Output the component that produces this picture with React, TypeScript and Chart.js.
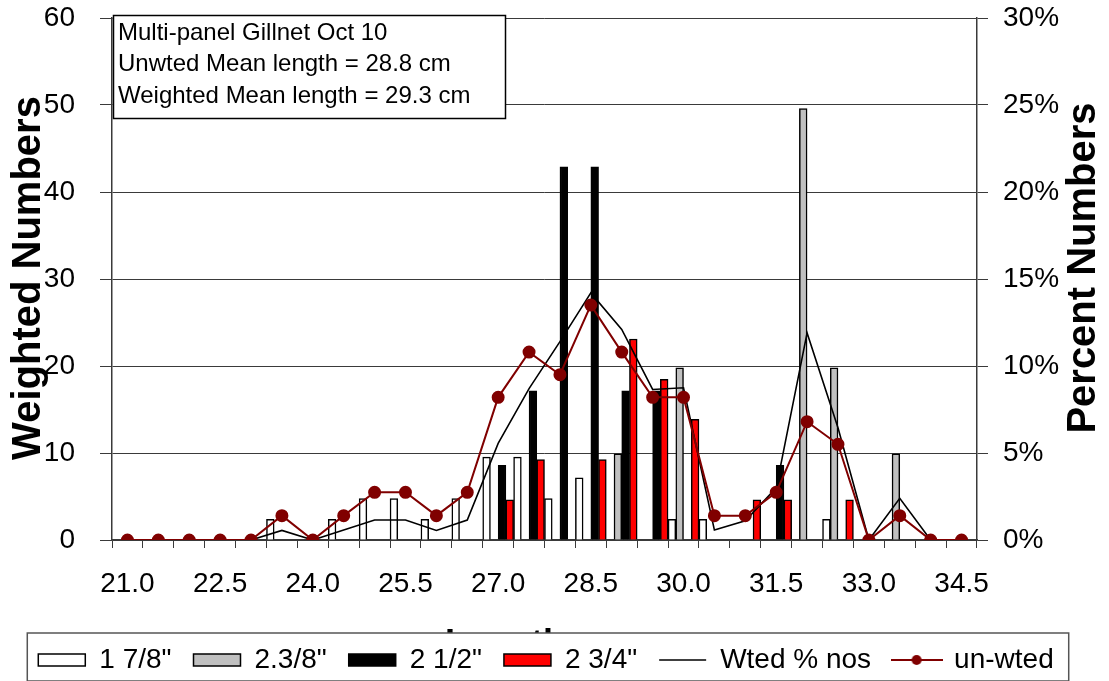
import React, { useEffect, useRef } from 'react';
import { Chart, registerables } from 'chart.js';

Chart.register(...registerables);

// ---------- data ----------
const lengths = ['21.0', '21.5', '22.0', '22.5', '23.0', '23.5', '24.0', '24.5', '25.0', '25.5', '26.0', '26.5', '27.0', '27.5', '28.0', '28.5', '29.0', '29.5', '30.0', '30.5', '31.0', '31.5', '32.0', '32.5', '33.0', '33.5', '34.0', '34.5'];

const mesh1_7_8 = [null, null, null, null, null, 2.38, null, 2.38, 4.76, 4.76, 2.38, 4.76, 9.52, 9.52, 4.76, 7.14, null, null, 2.38, 2.38, null, null, null, 2.38, null, null, null, null];
const mesh2_3_8 = [null, null, null, null, null, null, null, null, null, null, null, null, null, null, null, null, 9.9, null, 19.8, null, null, null, 49.6, 19.8, null, 9.9, null, null];
const mesh2_1_2 = [null, null, null, null, null, null, null, null, null, null, null, null, 8.58, 17.16, 42.9, 42.9, 17.16, 17.16, null, null, null, 8.58, null, null, null, null, null, null];
const mesh2_3_4 = [null, null, null, null, null, null, null, null, null, null, null, null, 4.62, 9.24, null, 9.24, 23.1, 18.48, 13.86, null, 4.62, 4.62, null, 4.62, null, null, null, null];

const wtedPct = [0, 0, 0, 0, 0, 0.55, 0, 0.57, 1.15, 1.15, 0.55, 1.15, 5.55, 8.7, 11.4, 14.2, 12.1, 8.65, 8.75, 0.57, 1.1, 3.0, 11.9, 6.45, 0, 2.4, 0, 0];
const unwtedPct = [0, 0, 0, 0, 0, 1.4, 0, 1.4, 2.74, 2.74, 1.4, 2.74, 8.2, 10.8, 9.5, 13.5, 10.8, 8.2, 8.2, 1.4, 1.4, 2.74, 6.8, 5.5, 0, 1.4, 0, 0];

const seriesLabels = ['1 7/8"', '2.3/8"', '2 1/2"', '2 3/4"', 'Wted % nos', 'un-wted'];
const noteLines = ['Multi-panel Gillnet Oct 10', 'Unwted Mean length = 28.8 cm', 'Weighted Mean length = 29.3 cm'];
const leftTitle = 'Weighted Numbers';
const rightTitle = 'Percent Numbers';
const bottomTitle = 'Length';

// ---------- styles ----------
const FONT = '"Liberation Sans", Arial, sans-serif';
const CW = 1109;
const CH = 684;
const PAD_RIGHT = 17;
const PLOT_TOP = 18;
const PLOT_BOTTOM = 540;
const PLOT_LEFT = 112;
const PLOT_RIGHT = 977;
const DARKRED = '#800000';
const GRID = '#3a3a3a';

export default function App() {
  const ref = useRef<HTMLCanvasElement>(null);

  useEffect(() => {
    const canvas = ref.current!;
    Chart.defaults.font.family = FONT;
    Chart.defaults.color = '#000';

    const dotImg = document.createElement('canvas');
    dotImg.width = 52;
    dotImg.height = 14;
    const dc = dotImg.getContext('2d')!;
    dc.strokeStyle = DARKRED;
    dc.lineWidth = 2;
    dc.beginPath();
    dc.moveTo(0, 7);
    dc.lineTo(52, 7);
    dc.stroke();
    dc.fillStyle = DARKRED;
    dc.beginPath();
    dc.arc(26, 7, 5, 0, Math.PI * 2);
    dc.fill();

    const legendStyle = [
      { fill: '#ffffff', stroke: '#000', ps: 'rect' },
      { fill: '#c0c0c0', stroke: '#000', ps: 'rect' },
      { fill: '#000000', stroke: '#000', ps: 'rect' },
      { fill: '#ff0000', stroke: '#000', ps: 'rect' },
      { fill: '#000', stroke: '#000', ps: 'line' },
      { fill: DARKRED, stroke: DARKRED, ps: dotImg },
    ];

    const decor = {
      id: 'decor',
      beforeDraw(chart: any) {
        const ctx = chart.ctx;
        ctx.save();
        ctx.fillStyle = '#fff';
        ctx.fillRect(0, 0, chart.width, chart.height);
        // x-axis title (mostly hidden behind the legend)
        ctx.fillStyle = '#000';
        ctx.font = `bold 36px ${FONT}`;
        ctx.textAlign = 'center';
        ctx.textBaseline = 'alphabetic';
        ctx.fillText(bottomTitle, 505, 655);
        // legend frame
        const hb = chart.legend && chart.legend.legendHitBoxes;
        if (hb && hb.length) {
          const first = hb[0];
          const last = hb[hb.length - 1];
          const cy = first.top + first.height / 2;
          const l = first.left - 11;
          const r = last.left + last.width + 15;
          const t = cy - 27;
          const b = cy + 21;
          ctx.fillStyle = '#fff';
          ctx.fillRect(l, t, r - l, b - t);
          ctx.strokeStyle = '#555';
          ctx.lineWidth = 1.5;
          ctx.strokeRect(l, t, r - l, b - t);
        }
        ctx.restore();
      },
      afterDraw(chart: any) {
        const ctx = chart.ctx;
        ctx.save();
        // note box
        ctx.fillStyle = '#fff';
        ctx.fillRect(113, 15, 392, 103);
        ctx.strokeStyle = '#000';
        ctx.lineWidth = 1.5;
        ctx.strokeRect(113.5, 15.5, 392, 103);
        ctx.fillStyle = '#000';
        ctx.font = `24px ${FONT}`;
        ctx.textAlign = 'left';
        ctx.textBaseline = 'middle';
        noteLines.forEach((s, i) => ctx.fillText(s, 118, 33 + i * 31.5));
        // axis titles
        ctx.font = `bold 40px ${FONT}`;
        ctx.textAlign = 'center';
        ctx.textBaseline = 'middle';
        ctx.save();
        ctx.translate(29, 278);
        ctx.rotate(-Math.PI / 2);
        ctx.fillText(leftTitle, 0, 0);
        ctx.restore();
        ctx.save();
        ctx.translate(1084, 268);
        ctx.rotate(-Math.PI / 2);
        ctx.fillText(rightTitle, 0, 0);
        ctx.restore();
        ctx.restore();
      },
    };

    const barCommon = {
      type: 'bar' as const,
      borderColor: '#000',
      borderWidth: 1.5,
      yAxisID: 'y',
      order: 3,
      categoryPercentage: 1.0,
      barPercentage: 1.0,
    };

    const chart = new Chart(canvas, {
      type: 'bar',
      data: {
        labels: lengths,
        datasets: [
          { ...barCommon, label: seriesLabels[0], data: mesh1_7_8, backgroundColor: '#ffffff' },
          { ...barCommon, label: seriesLabels[1], data: mesh2_3_8, backgroundColor: '#c0c0c0' },
          { ...barCommon, label: seriesLabels[2], data: mesh2_1_2, backgroundColor: '#000000' },
          { ...barCommon, label: seriesLabels[3], data: mesh2_3_4, backgroundColor: '#ff0000' },
          {
            type: 'line', label: seriesLabels[4], data: wtedPct, yAxisID: 'y1', order: 2,
            borderColor: '#000', backgroundColor: '#000', borderWidth: 1.6, pointRadius: 0, tension: 0,
          },
          {
            type: 'line', label: seriesLabels[5], data: unwtedPct, yAxisID: 'y1', order: 1,
            borderColor: DARKRED, backgroundColor: DARKRED, borderWidth: 2, pointRadius: 5.5,
            pointBackgroundColor: DARKRED, pointBorderColor: DARKRED, tension: 0,
          },
        ] as any,
      },
      options: {
        responsive: false,
        animation: false,
        events: [],
        layout: { padding: { top: PLOT_TOP, left: 0, right: PAD_RIGHT, bottom: 0 } },
        plugins: {
          tooltip: { enabled: false },
          title: { display: false },
          legend: {
            display: true,
            position: 'bottom',
            labels: {
              usePointStyle: true,
              pointStyleWidth: 47,
              boxHeight: 12,
              padding: 22,
              font: { size: 28, family: FONT },
              color: '#000',
              generateLabels: (ch: any) =>
                ch.data.datasets.map((ds: any, i: number) => ({
                  text: ds.label,
                  fillStyle: legendStyle[i].fill,
                  strokeStyle: legendStyle[i].stroke,
                  lineWidth: i === 4 ? 1.6 : 1.5,
                  pointStyle: legendStyle[i].ps,
                  hidden: false,
                  datasetIndex: i,
                  fontColor: '#000',
                })),
            },
          },
        },
        scales: {
          x: {
            type: 'category',
            offset: true,
            afterFit: (s: any) => {
              const lh = s.chart.legend ? s.chart.legend.height : 0;
              s.height = CH - lh - PLOT_BOTTOM;
            },
            grid: { display: true, drawOnChartArea: false, drawTicks: true, tickLength: 8, color: GRID, offset: true },
            border: { display: true, color: GRID, width: 1.5 },
            ticks: {
              autoSkip: false,
              maxRotation: 0,
              minRotation: 0,
              padding: 19,
              font: { size: 28, family: FONT },
              color: '#000',
              callback: (_v: any, i: number) => (i % 3 === 0 ? lengths[i] : ''),
            },
          },
          y: {
            type: 'linear',
            position: 'left',
            min: 0,
            max: 60,
            afterFit: (s: any) => {
              s.width = PLOT_LEFT;
              s.paddingTop = 0;
              s.paddingBottom = 0;
            },
            grid: { display: true, drawOnChartArea: true, drawTicks: true, tickLength: 12, color: GRID, lineWidth: 1 },
            border: { display: true, color: GRID, width: 1.5 },
            ticks: { stepSize: 10, padding: 25, font: { size: 28, family: FONT }, color: '#000' },
          },
          y1: {
            type: 'linear',
            position: 'right',
            min: 0,
            max: 30,
            afterFit: (s: any) => {
              s.width = CW - PAD_RIGHT - PLOT_RIGHT;
              s.paddingTop = 0;
              s.paddingBottom = 0;
            },
            grid: { display: true, drawOnChartArea: false, drawTicks: true, tickLength: 11, color: GRID },
            border: { display: true, color: GRID, width: 1.5 },
            ticks: {
              stepSize: 5,
              padding: 15,
              font: { size: 28, family: FONT },
              color: '#000',
              callback: (v: any) => `${v}%`,
            },
          },
        },
      } as any,
      plugins: [decor],
    });

    return () => chart.destroy();
  }, []);

  return (
    <div style={{ position: 'fixed', left: 0, top: 0, width: CW, height: 681, overflow: 'hidden', background: '#fff' }}>
      <canvas ref={ref} width={CW} height={CH} style={{ display: 'block', width: CW, height: CH }} />
    </div>
  );
}
